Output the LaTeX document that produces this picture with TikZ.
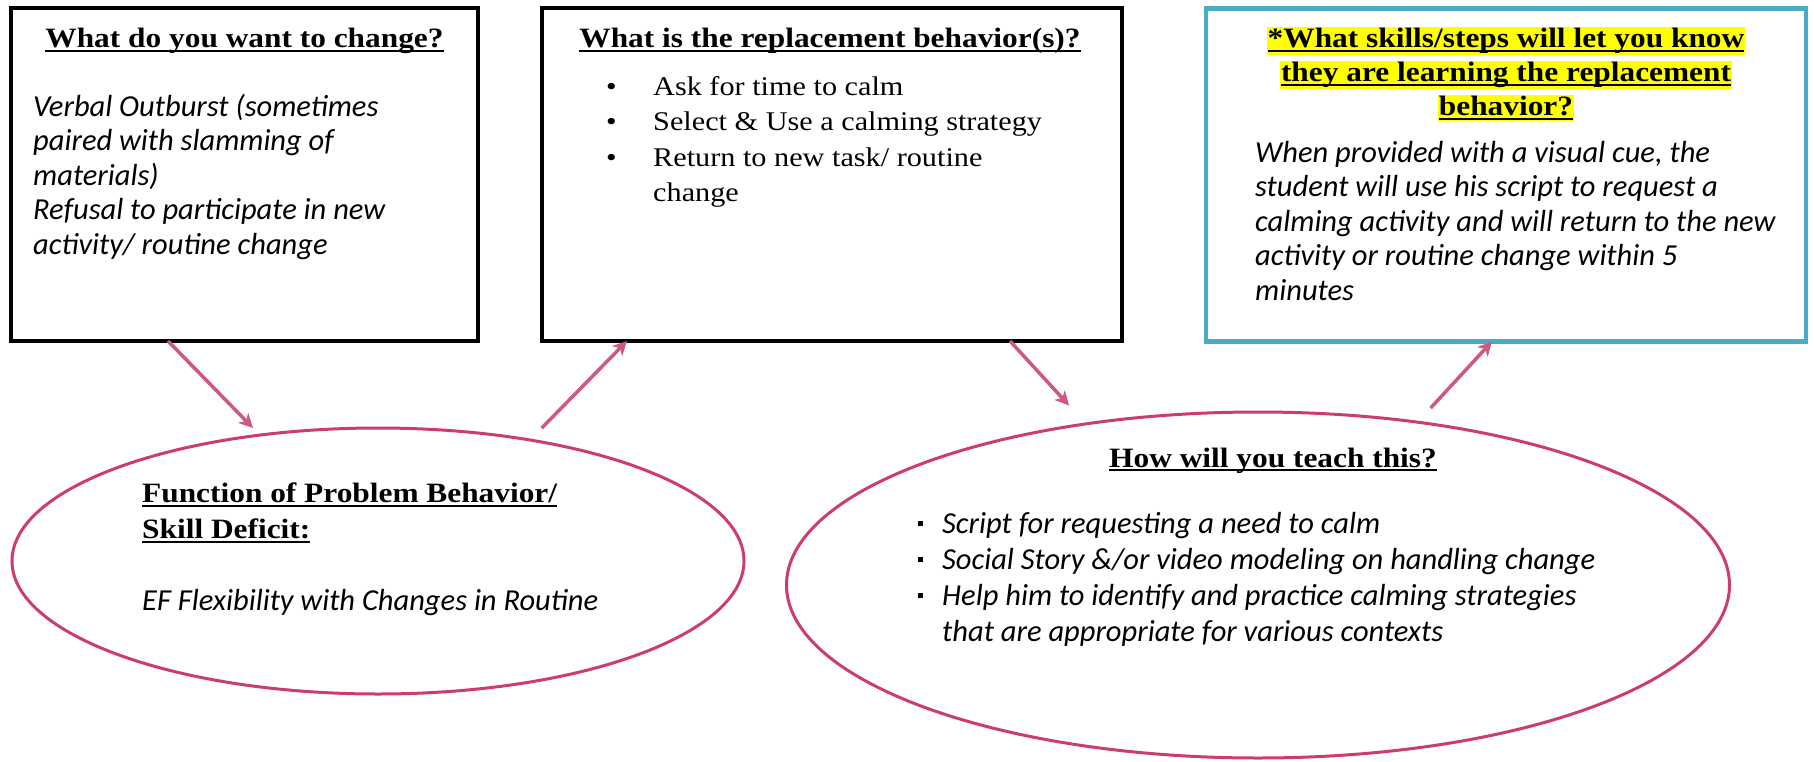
\documentclass[tikz,border=0pt]{standalone}
\usepackage{fontspec}
\setmainfont{Carlito}
\newfontfamily\headfont[FakeStretch=1.12]{Liberation Serif}
\usetikzlibrary{arrows.meta,positioning,shapes.geometric}

\definecolor{rosered}{RGB}{204,62,104}
\definecolor{arrowpink}{RGB}{206,88,128}
\definecolor{tealline}{RGB}{72,172,198}
\definecolor{hiyellow}{RGB}{255,255,0}

\newcommand\undl[1]{\setbox0\hbox{#1}\rlap{\rule[-4pt]{\wd0}{2pt}}\box0}
\newcommand\hilite[1]{{\fboxsep=1pt\colorbox{hiyellow}{\undl{#1}}}}
\newcommand\sqbul{\makebox[24pt][l]{\rule[7pt]{5pt}{5.5pt}}}

\begin{document}
\begin{tikzpicture}[x=1pt,y=-1pt,
    box/.style={draw,line width=4.5pt,inner sep=0pt,outer sep=0pt,minimum height=333pt},
    oval/.style={ellipse,draw=rosered,line width=3pt,inner sep=0pt,outer sep=0pt},
    head/.style={font=\headfont\bfseries\fontsize{28}{34}\selectfont,inner sep=0pt},
    body/.style={font=\itshape\fontsize{30.5}{34.5}\selectfont,align=left,inner sep=0pt,
                 anchor=north west},
    arr/.style={-{Stealth[length=14pt,width=14pt,inset=4pt]},line width=3.5pt,draw=arrowpink}]
  \useasboundingbox (0,0) rectangle (1814,762);
  \fill[white] (0,0) rectangle (1814,762);
  % frames
  \node[box,minimum width=467pt] (want) at (244.5,174.5) {};
  \node[box,minimum width=580pt] (repl) at (832,174.5) {};
  \node[box,draw=tealline,minimum width=600pt] (skills) at (1506,175) {};
  \node[oval,minimum width=732pt,minimum height=266pt] (func) at (378,561) {};
  \node[oval,minimum width=943pt,minimum height=346pt] (teach) at (1258,585) {};
  % texts
  \node[head,anchor=base] (wanthead) at (244.5,48) {\undl{What do you want to change?}};
  \node[body] (wanttext) at (33,94) {Verbal Outburst (sometimes\\paired with slamming of\\
    materials)\\Refusal to participate in new\\activity/ routine change};
  \node[head,anchor=base] (replhead) at (830,48) {\undl{What is the replacement behavior(s)?}};
  \node[anchor=north west,align=left,inner sep=0pt,font=\headfont\fontsize{27}{35.5}\selectfont]
    (repllist) at (606,76) {\makebox[47pt][l]{\textbullet}Ask for time to calm\\
    \makebox[47pt][l]{\textbullet}Select \& Use a calming strategy\\
    \makebox[47pt][l]{\textbullet}Return to new task/ routine\\\hspace*{47pt}change};
  \node[head,align=center,anchor=north] (skillshead) at (1506,27)
    {\hilite{*What skills/steps will let you know}\\\hilite{they are learning the replacement}\\
     \hilite{behavior?}};
  \node[body] (skillstext) at (1255,141) {When provided with a visual cue, the\\
    student will use his script to request a\\calming activity and will return to the new\\
    activity or routine change within 5\\minutes};
  \node[head,anchor=north west,align=left,font=\headfont\bfseries\fontsize{28}{36}\selectfont]
    (funchead) at (142,483) {\undl{Function of Problem Behavior/}\\\undl{Skill Deficit:}};
  \node[body,anchor=base west] (functext) at (142,610) {EF Flexibility with Changes in Routine};
  \node[head,anchor=base] (teachhead) at (1273,467) {\undl{How will you teach this?}};
  \node[body,font=\itshape\fontsize{30.5}{36}\selectfont] (teachlist) at (918,512)
    {\sqbul Script for requesting a need to calm\\
     \sqbul Social Story \&/or video modeling on handling change\\
     \sqbul Help him to identify and practice calming strategies\\
     \hspace*{24pt}that are appropriate for various contexts};
  % arrows
  \draw[arr] ([xshift=157pt]want.south west) -- ([yshift=8pt]func.135);
  \draw[arr] ([yshift=14pt]func.36) -- ([xshift=85pt]repl.south west);
  \draw[arr] ([xshift=468pt]repl.south west) -- ([yshift=21pt]teach.140);
  \draw[arr] ([yshift=16pt]teach.43.5) -- ([xshift=286pt]skills.south west);
\end{tikzpicture}
\end{document}
